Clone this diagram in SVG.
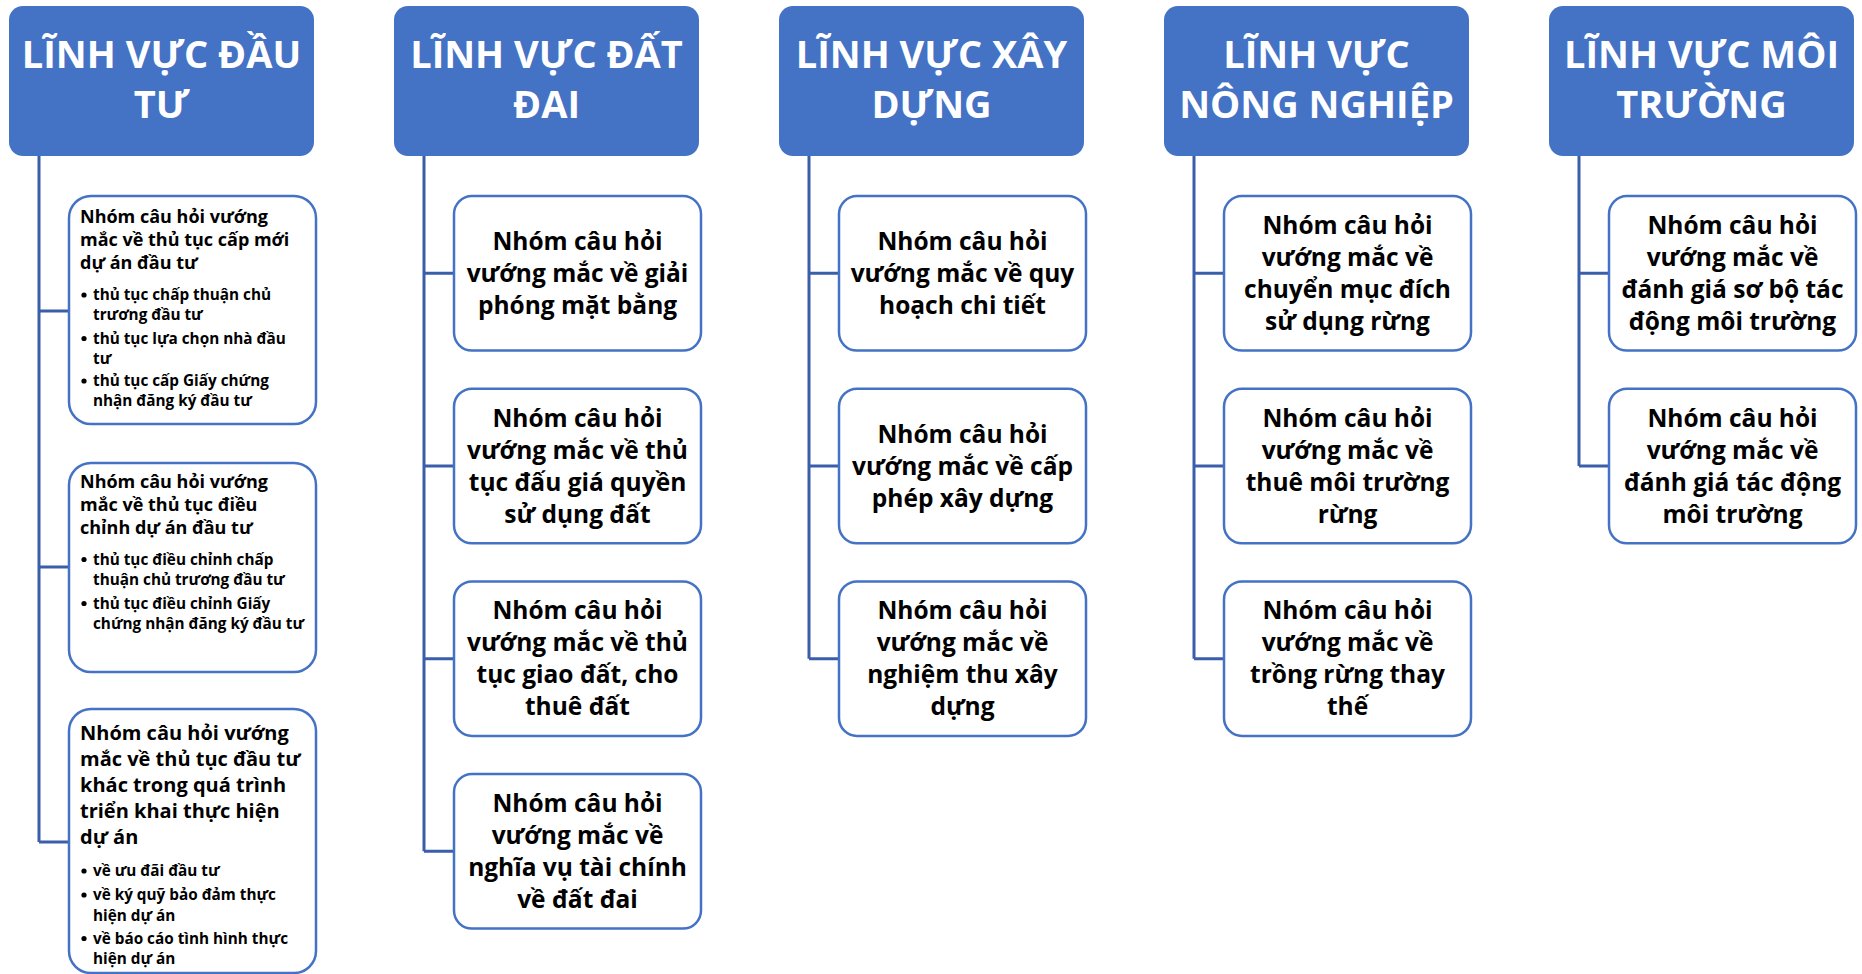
<svg xmlns="http://www.w3.org/2000/svg" width="1862" height="974" viewBox="0 0 1862 974">
<style>
.hdr{fill:#4472C4}
.hdrt{font-family:"Open Sans","Noto Sans","DejaVu Sans",sans-serif;font-weight:700;font-size:38px;fill:#fff;text-anchor:middle}
.box{fill:#fff;stroke:#4472C4;stroke-width:2.5}
.bt{font-family:"Open Sans","Noto Sans","DejaVu Sans",sans-serif;font-weight:700;font-size:24.5px;fill:#000;text-anchor:middle}
.lt{font-family:"Open Sans","Noto Sans","DejaVu Sans",sans-serif;font-weight:700;font-size:18px;fill:#000}
.lt2{font-family:"Open Sans","Noto Sans","DejaVu Sans",sans-serif;font-weight:700;font-size:20px;fill:#000}
.bl{font-family:"Open Sans","Noto Sans","DejaVu Sans",sans-serif;font-weight:700;font-size:15.3px;fill:#000}
.dot{fill:#000}
.con{fill:none;stroke:#3A5EAA;stroke-width:3}
</style>
<rect width="1862" height="974" fill="#fff"/>
<g id="connectors">
<path class="con" d="M39,156V842M39,311H69M39,567H69M39,842H69"/>
<path class="con" d="M424,156V851.3M424,273.3H454M424,466H454M424,658.7H454M424,851.3H454"/>
<path class="con" d="M809,156V658.7M809,273.3H839M809,466H839M809,658.7H839"/>
<path class="con" d="M1194,156V658.7M1194,273.3H1224M1194,466H1224M1194,658.7H1224"/>
<path class="con" d="M1579,156V466M1579,273.3H1609M1579,466H1609"/>
</g>
<g id="h1"><rect class="hdr" x="9" y="6" width="305" height="150" rx="14"/><text class="hdrt" x="161.5" y="68">LĨNH VỰC ĐẦU</text><text class="hdrt" x="161.5" y="118">TƯ</text></g>
<g id="h2"><rect class="hdr" x="394" y="6" width="305" height="150" rx="14"/><text class="hdrt" x="546.5" y="68">LĨNH VỰC ĐẤT</text><text class="hdrt" x="546.5" y="118">ĐAI</text></g>
<g id="h3"><rect class="hdr" x="779" y="6" width="305" height="150" rx="14"/><text class="hdrt" x="931.5" y="68">LĨNH VỰC XÂY</text><text class="hdrt" x="931.5" y="118">DỰNG</text></g>
<g id="h4"><rect class="hdr" x="1164" y="6" width="305" height="150" rx="14"/><text class="hdrt" x="1316.5" y="68">LĨNH VỰC</text><text class="hdrt" x="1316.5" y="118">NÔNG NGHIỆP</text></g>
<g id="h5"><rect class="hdr" x="1549" y="6" width="305" height="150" rx="14"/><text class="hdrt" x="1701.5" y="68">LĨNH VỰC MÔI</text><text class="hdrt" x="1701.5" y="118">TRƯỜNG</text></g>

<g id="c1b1"><rect class="box" x="69" y="196" width="247" height="228" rx="22"/>
<text class="lt" x="80" y="222.5">Nhóm câu hỏi vướng</text>
<text class="lt" x="80" y="245.5">mắc về thủ tục cấp mới</text>
<text class="lt" x="80" y="268.5">dự án đầu tư</text>
<circle class="dot" cx="84" cy="295" r="2.6"/><text class="bl" x="93" y="300">thủ tục chấp thuận chủ</text>
<text class="bl" x="93" y="320">trương đầu tư</text>
<circle class="dot" cx="84" cy="338.5" r="2.6"/><text class="bl" x="93" y="343.5">thủ tục lựa chọn nhà đầu</text>
<text class="bl" x="93" y="363.5">tư</text>
<circle class="dot" cx="84" cy="381" r="2.6"/><text class="bl" x="93" y="386">thủ tục cấp Giấy chứng</text>
<text class="bl" x="93" y="406">nhận đăng ký đầu tư</text>
</g>
<g id="c1b2"><rect class="box" x="69" y="463" width="247" height="209" rx="22"/>
<text class="lt" x="80" y="488">Nhóm câu hỏi vướng</text>
<text class="lt" x="80" y="511">mắc về thủ tục điều</text>
<text class="lt" x="80" y="534">chỉnh dự án đầu tư</text>
<circle class="dot" cx="84" cy="559.5" r="2.6"/><text class="bl" x="93" y="564.5">thủ tục điều chỉnh chấp</text>
<text class="bl" x="93" y="585">thuận chủ trương đầu tư</text>
<circle class="dot" cx="84" cy="603.5" r="2.6"/><text class="bl" x="93" y="608.5">thủ tục điều chỉnh Giấy</text>
<text class="bl" x="93" y="629">chứng nhận đăng ký đầu tư</text>
</g>
<g id="c1b3"><rect class="box" x="69" y="709" width="247" height="264" rx="22"/>
<text class="lt2" x="80" y="740">Nhóm câu hỏi vướng</text>
<text class="lt2" x="80" y="766">mắc về thủ tục đầu tư</text>
<text class="lt2" x="80" y="792">khác trong quá trình</text>
<text class="lt2" x="80" y="818">triển khai thực hiện</text>
<text class="lt2" x="80" y="844">dự án</text>
<circle class="dot" cx="84" cy="871" r="2.6"/><text class="bl" x="93" y="876">về ưu đãi đầu tư</text>
<circle class="dot" cx="84" cy="895" r="2.6"/><text class="bl" x="93" y="900">về ký quỹ bảo đảm thực</text>
<text class="bl" x="93" y="920.5">hiện dự án</text>
<circle class="dot" cx="84" cy="938.5" r="2.6"/><text class="bl" x="93" y="943.5">về báo cáo tình hình thực</text>
<text class="bl" x="93" y="964">hiện dự án</text>
</g>

<g id="c2b1"><rect class="box" x="454" y="196" width="247" height="154.6" rx="18"/>
<text class="bt" x="577.5" y="249.8">Nhóm câu hỏi</text><text class="bt" x="577.5" y="281.8">vướng mắc về giải</text><text class="bt" x="577.5" y="313.8">phóng mặt bằng</text></g>
<g id="c2b2"><rect class="box" x="454" y="388.7" width="247" height="154.6" rx="18"/>
<text class="bt" x="577.5" y="426.5">Nhóm câu hỏi</text><text class="bt" x="577.5" y="458.5">vướng mắc về thủ</text><text class="bt" x="577.5" y="490.5">tục đấu giá quyền</text><text class="bt" x="577.5" y="522.5">sử dụng đất</text></g>
<g id="c2b3"><rect class="box" x="454" y="581.4" width="247" height="154.6" rx="18"/>
<text class="bt" x="577.5" y="619.2">Nhóm câu hỏi</text><text class="bt" x="577.5" y="651.2">vướng mắc về thủ</text><text class="bt" x="577.5" y="683.2">tục giao đất, cho</text><text class="bt" x="577.5" y="715.2">thuê đất</text></g>
<g id="c2b4"><rect class="box" x="454" y="774" width="247" height="154.6" rx="18"/>
<text class="bt" x="577.5" y="811.8">Nhóm câu hỏi</text><text class="bt" x="577.5" y="843.8">vướng mắc về</text><text class="bt" x="577.5" y="875.8">nghĩa vụ tài chính</text><text class="bt" x="577.5" y="907.8">về đất đai</text></g>

<g id="c3b1"><rect class="box" x="839" y="196" width="247" height="154.6" rx="18"/>
<text class="bt" x="962.5" y="249.8">Nhóm câu hỏi</text><text class="bt" x="962.5" y="281.8">vướng mắc về quy</text><text class="bt" x="962.5" y="313.8">hoạch chi tiết</text></g>
<g id="c3b2"><rect class="box" x="839" y="388.7" width="247" height="154.6" rx="18"/>
<text class="bt" x="962.5" y="442.5">Nhóm câu hỏi</text><text class="bt" x="962.5" y="474.5">vướng mắc về cấp</text><text class="bt" x="962.5" y="506.5">phép xây dựng</text></g>
<g id="c3b3"><rect class="box" x="839" y="581.4" width="247" height="154.6" rx="18"/>
<text class="bt" x="962.5" y="619.2">Nhóm câu hỏi</text><text class="bt" x="962.5" y="651.2">vướng mắc về</text><text class="bt" x="962.5" y="683.2">nghiệm thu xây</text><text class="bt" x="962.5" y="715.2">dựng</text></g>

<g id="c4b1"><rect class="box" x="1224" y="196" width="247" height="154.6" rx="18"/>
<text class="bt" x="1347.5" y="233.8">Nhóm câu hỏi</text><text class="bt" x="1347.5" y="265.8">vướng mắc về</text><text class="bt" x="1347.5" y="297.8">chuyển mục đích</text><text class="bt" x="1347.5" y="329.8">sử dụng rừng</text></g>
<g id="c4b2"><rect class="box" x="1224" y="388.7" width="247" height="154.6" rx="18"/>
<text class="bt" x="1347.5" y="426.5">Nhóm câu hỏi</text><text class="bt" x="1347.5" y="458.5">vướng mắc về</text><text class="bt" x="1347.5" y="490.5">thuê môi trường</text><text class="bt" x="1347.5" y="522.5">rừng</text></g>
<g id="c4b3"><rect class="box" x="1224" y="581.4" width="247" height="154.6" rx="18"/>
<text class="bt" x="1347.5" y="619.2">Nhóm câu hỏi</text><text class="bt" x="1347.5" y="651.2">vướng mắc về</text><text class="bt" x="1347.5" y="683.2">trồng rừng thay</text><text class="bt" x="1347.5" y="715.2">thế</text></g>

<g id="c5b1"><rect class="box" x="1609" y="196" width="247" height="154.6" rx="18"/>
<text class="bt" x="1732.5" y="233.8">Nhóm câu hỏi</text><text class="bt" x="1732.5" y="265.8">vướng mắc về</text><text class="bt" x="1732.5" y="297.8">đánh giá sơ bộ tác</text><text class="bt" x="1732.5" y="329.8">động môi trường</text></g>
<g id="c5b2"><rect class="box" x="1609" y="388.7" width="247" height="154.6" rx="18"/>
<text class="bt" x="1732.5" y="426.5">Nhóm câu hỏi</text><text class="bt" x="1732.5" y="458.5">vướng mắc về</text><text class="bt" x="1732.5" y="490.5">đánh giá tác động</text><text class="bt" x="1732.5" y="522.5">môi trường</text></g>
</svg>
